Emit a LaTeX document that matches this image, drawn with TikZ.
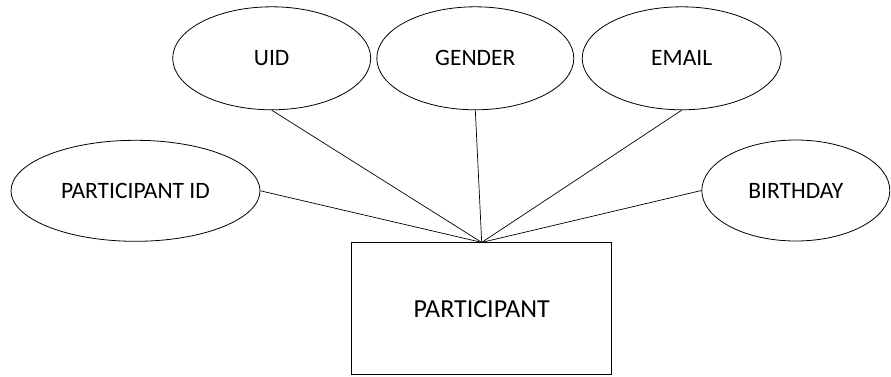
\documentclass[tikz,border=0pt]{standalone}
\usepackage{fontspec}
\setmainfont{Carlito}
\usetikzlibrary{shapes.geometric}
\begin{document}
\begin{tikzpicture}[x=1pt,y=-1pt,
  attr/.style={draw, ellipse, line width=0.8pt, inner sep=0pt,
    font=\fontsize{23.5}{27}\selectfont},
  entity/.style={draw, rectangle, line width=0.8pt, inner sep=0pt,
    minimum width=260pt, minimum height=132pt,
    font=\fontsize{26}{30}\selectfont},
  link/.style={line width=0.7pt}]
  \useasboundingbox (0,0) rectangle (891,376);
  % entity
  \node[entity] (part) at (481.7,308.8) {PARTICIPANT};
  % attributes
  \node[attr, minimum width=198pt, minimum height=103pt] (uid) at (271.7,58.3) {UID};
  \node[attr, minimum width=197pt, minimum height=103pt] (gender) at (475.3,58.3) {GENDER};
  \node[attr, minimum width=199pt, minimum height=103pt] (email) at (681.7,58.3) {EMAIL};
  \node[attr, minimum width=249pt, minimum height=101pt] (pid) at (135.5,190.8) {PARTICIPANT ID};
  \node[attr, minimum width=188pt, minimum height=101pt] (bday) at (795.8,190.5) {BIRTHDAY};
  % connectors
  \draw[link] (uid.south) -- (part.north);
  \draw[link] (gender.south) -- (part.north);
  \draw[link] (email.south) -- (part.north);
  \draw[link] (pid.east) -- (part.north);
  \draw[link] (bday.west) -- (part.north);
\end{tikzpicture}
\end{document}
